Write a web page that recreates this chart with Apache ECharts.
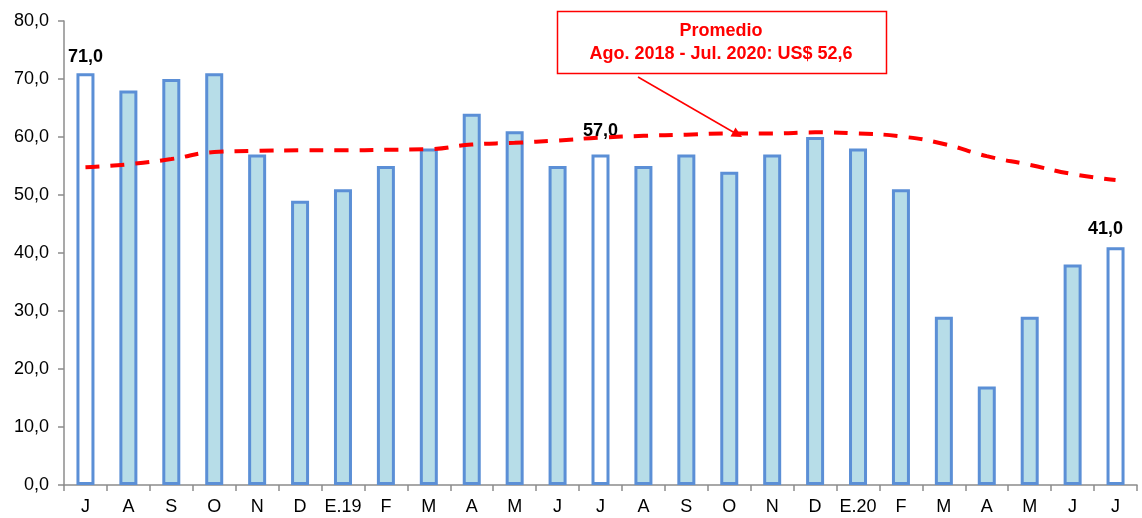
<!DOCTYPE html>
<html>
<head>
<meta charset="utf-8">
<script src="https://cdn.jsdelivr.net/npm/echarts@6/dist/echarts.min.js"></script>
<style>
  html, body { margin: 0; padding: 0; background: #fff; }
  #chart { width: 1142px; height: 518px; }
</style>
</head>
<body>
<div id="chart"></div>
<script>
// meses jul 2018 - jul 2020
const months = ['J', 'A', 'S', 'O', 'N', 'D', 'E.19', 'F', 'M', 'A', 'M', 'J',
  'J', 'A', 'S', 'O', 'N', 'D', 'E.20', 'F', 'M', 'A', 'M', 'J', 'J'];
const prices = [71, 68, 70, 71, 57, 49, 51, 55, 58, 64, 61, 55,
  57, 55, 57, 54, 57, 60, 58, 51, 29, 17, 29, 38, 41];
// promedio movil (linea roja)
const average = [54.8, 55.3, 56.2, 57.4, 57.6, 57.7, 57.7, 57.8, 57.9, 58.7, 59.0, 59.4,
  59.9, 60.2, 60.4, 60.6, 60.6, 60.8, 60.6, 60.1, 58.8, 56.7, 55.2, 53.6, 52.6];
const hollowBars = [0, 12, 24];   // julios en blanco
const labeledBars = [0, 12, 24];
const yTicks = [0, 10, 20, 30, 40, 50, 60, 70, 80];

const fmt = v => v.toFixed(1).replace('.', ',');

const barData = prices.map((v, i) => {
  const item = { value: v };
  if (hollowBars.includes(i)) item.itemStyle = { color: '#ffffff' };
  if (labeledBars.includes(i)) {
    item.label = { show: true };
    if (i === 12) item.label.distance = 14;
    if (i === 24) item.label.offset = [-10, -2];
  }
  return item;
});

const myChart = echarts.init(document.getElementById('chart'));
const option = {
  animation: false,
  textStyle: { fontFamily: 'Liberation Sans, Arial, sans-serif' },
  grid: { left: 64, right: 5, top: 21, bottom: 33, containLabel: false },
  xAxis: {
    type: 'category',
    data: months,
    axisLine: { lineStyle: { color: '#8c8c8c', width: 1.5 } },
    axisTick: { show: true, length: 6, lineStyle: { color: '#8c8c8c', width: 1.5 } },
    axisLabel: { color: '#000', fontSize: 18, margin: 13, interval: 0 }
  },
  yAxis: {
    type: 'value',
    min: 0,
    max: yTicks[yTicks.length - 1],
    interval: 10,
    axisLine: { show: true, lineStyle: { color: '#8c8c8c', width: 1.5 } },
    axisTick: { show: true, length: 6, lineStyle: { color: '#8c8c8c', width: 1.5 } },
    splitLine: { show: false },
    axisLabel: { color: '#000', fontSize: 18, margin: 15, formatter: fmt }
  },
  series: [
    {
      type: 'bar',
      data: barData,
      barWidth: 18,
      itemStyle: { color: '#b7dde8', borderColor: '#5b8fd6', borderWidth: 3 },
      label: {
        show: false,
        position: 'top',
        distance: 7,
        color: '#000',
        fontSize: 18,
        fontWeight: 'bold',
        formatter: p => fmt(p.value)
      },
      z: 2
    },
    {
      type: 'line',
      data: average,
      smooth: true,
      symbol: 'none',
      lineStyle: { color: '#ff0000', width: 4, type: [14, 11] },
      z: 3
    }
  ],
  graphic: [
    {
      type: 'rect',
      shape: { x: 557.5, y: 11.5, width: 329, height: 62 },
      style: { fill: '#fff', stroke: '#ff0000', lineWidth: 1.5 },
      z: 10
    },
    {
      type: 'text',
      x: 721, y: 31,
      style: {
        text: 'Promedio', fill: '#ff0000', font: 'bold 18px Liberation Sans, Arial',
        align: 'center', verticalAlign: 'middle'
      },
      z: 11
    },
    {
      type: 'text',
      x: 721, y: 54,
      style: {
        text: 'Ago. 2018 - Jul. 2020: US$ 52,6', fill: '#ff0000', font: 'bold 18px Liberation Sans, Arial',
        align: 'center', verticalAlign: 'middle'
      },
      z: 11
    },
    {
      type: 'line',
      shape: { x1: 638, y1: 77, x2: 734, y2: 132.5 },
      style: { stroke: '#ff0000', lineWidth: 1.5 },
      z: 11
    },
    {
      type: 'polygon',
      shape: { points: [[742, 137], [730.5, 136.5], [735.5, 127.5]] },
      style: { fill: '#ff0000' },
      z: 11
    }
  ]
};
myChart.setOption(option);
</script>
</body>
</html>
